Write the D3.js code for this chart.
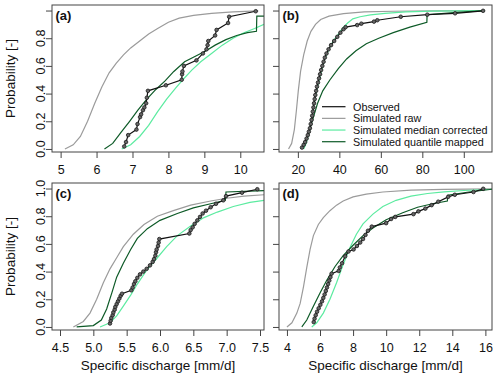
<!DOCTYPE html>
<head>
    <meta charset="UTF-8" />
    <style>
        body { margin: 0; padding: 0; background: #fff; }
        text { font-family: "Liberation Sans", Arial, sans-serif; fill: #111; }
        .frame { fill: none; stroke: #444; stroke-width: 1px; }
        .tick line { stroke: #444; }
    </style>
    <title>ECDF panels</title>
</head>
<svg width="500" height="378"></svg>
<script src="https://d3js.org/d3.v7.min.js"></script>
<script>
    // [specific discharge, probability] pairs
    const obsA = [[6.77,0.018],[6.82,0.05],[6.88,0.10],[7.11,0.14],[7.14,0.18],[7.21,0.23],[7.24,0.25],[7.29,0.28],[7.33,0.30],[7.38,0.33],[7.40,0.37],[7.43,0.42],[7.93,0.46],[8.37,0.50],[8.38,0.54],[8.39,0.56],[8.43,0.60],[8.78,0.64],[8.96,0.69],[9.06,0.72],[9.09,0.75],[9.11,0.78],[9.30,0.82],[9.34,0.86],[9.66,0.91],[9.69,0.955],[10.43,0.995]]
    const rawA = [[5.12,0],[5.35,0.03],[5.55,0.09],[5.75,0.2],[5.95,0.33],[6.15,0.45],[6.35,0.55],[6.55,0.62],[6.75,0.68],[6.95,0.73],[7.2,0.78],[7.45,0.83],[7.7,0.87],[8.0,0.915],[8.3,0.945],[8.7,0.965],[9.2,0.98],[9.8,0.99],[10.5,0.997]]
    const medA = [[6.7,0],[6.95,0.03],[7.2,0.09],[7.45,0.17],[7.7,0.27],[7.95,0.36],[8.2,0.44],[8.4,0.5],[8.65,0.57],[8.9,0.63],[9.2,0.69],[9.5,0.75],[9.8,0.8],[10.1,0.84],[10.4,0.87],[10.66,0.9]]
    const qmA = [[6.22,0],[6.45,0.04],[6.68,0.12],[6.92,0.2],[7.15,0.28],[7.4,0.36],[7.65,0.43],[7.9,0.49],[8.15,0.56],[8.45,0.63],[8.75,0.67],[9.05,0.71],[9.3,0.75],[9.6,0.79],[9.9,0.82],[10.2,0.84],[10.45,0.85],[10.46,0.96],[10.66,0.96]]

    const obsB = [[22.0,0.01],[22.8,0.03],[23.5,0.05],[24.2,0.075],[24.8,0.10],[25.3,0.125],[25.8,0.15],[26.2,0.18],[26.6,0.21],[26.9,0.24],[27.2,0.27],[27.5,0.30],[27.8,0.33],[28.1,0.36],[28.4,0.39],[28.8,0.42],[29.2,0.45],[29.7,0.48],[30.2,0.51],[30.7,0.54],[31.2,0.57],[31.8,0.60],[32.4,0.63],[33.0,0.66],[33.8,0.69],[34.8,0.72],[36.0,0.75],[37.5,0.78],[39.0,0.81],[40.5,0.84],[42.0,0.865],[43.0,0.88],[48.6,0.895],[50.6,0.905],[56.7,0.92],[58.3,0.93],[69.6,0.955],[82.4,0.97],[95.8,0.98],[109.3,0.998]]
    const rawB = [[15.5,0],[17,0.04],[18.3,0.14],[19.3,0.28],[20.2,0.42],[21.3,0.56],[22.8,0.68],[24.5,0.78],[26.3,0.85],[28.5,0.9],[31,0.935],[35,0.96],[42,0.978],[52,0.99],[66,0.995],[85,0.998],[110,1.0]]
    const medB = [[22.8,0],[24,0.04],[25.5,0.12],[27,0.25],[28.5,0.38],[30,0.48],[31.5,0.57],[33,0.65],[35,0.72],[37,0.78],[39.5,0.83],[42,0.88],[44,0.91],[46.5,0.94],[50,0.955],[55,0.968],[62,0.98],[72,0.99],[85,0.996],[110,1.0]]
    const qmB = [[21.5,0],[23.5,0.05],[25.5,0.13],[27.5,0.23],[29.5,0.33],[32,0.42],[35.5,0.5],[39.5,0.58],[43.5,0.65],[48,0.71],[53,0.76],[59,0.8],[66,0.84],[74,0.88],[82.2,0.915],[82.3,0.97],[95,0.985],[110,1.0]]

    const obsC = [[5.25,0.025],[5.26,0.045],[5.27,0.065],[5.29,0.085],[5.30,0.105],[5.32,0.125],[5.33,0.145],[5.35,0.165],[5.37,0.185],[5.39,0.205],[5.41,0.225],[5.43,0.24],[5.57,0.265],[5.59,0.285],[5.61,0.31],[5.63,0.33],[5.66,0.355],[5.70,0.38],[5.75,0.40],[5.80,0.42],[5.85,0.445],[5.89,0.47],[5.91,0.49],[5.93,0.515],[5.94,0.54],[5.95,0.56],[5.97,0.585],[5.98,0.61],[5.99,0.635],[6.44,0.675],[6.46,0.70],[6.49,0.72],[6.52,0.745],[6.56,0.77],[6.60,0.795],[6.64,0.82],[6.69,0.84],[6.76,0.865],[6.84,0.89],[6.95,0.915],[6.99,0.945],[7.23,0.97],[7.46,0.995]]
    const rawC = [[4.7,0],[4.85,0.04],[4.95,0.10],[5.05,0.2],[5.15,0.32],[5.25,0.42],[5.35,0.5],[5.45,0.58],[5.6,0.67],[5.76,0.74],[5.96,0.8],[6.2,0.84],[6.46,0.88],[6.76,0.91],[7.0,0.93],[7.26,0.945],[7.56,0.955]]
    const medC = [[5.1,0],[5.25,0.03],[5.35,0.08],[5.45,0.15],[5.56,0.23],[5.66,0.31],[5.8,0.41],[5.96,0.5],[6.1,0.58],[6.26,0.66],[6.46,0.73],[6.66,0.79],[6.86,0.83],[7.1,0.87],[7.35,0.9],[7.56,0.915]]
    const qmC = [[4.75,0],[5.0,0.01],[5.12,0.05],[5.2,0.13],[5.28,0.25],[5.35,0.36],[5.45,0.46],[5.56,0.56],[5.66,0.64],[5.81,0.71],[6.0,0.77],[6.26,0.82],[6.5,0.86],[6.76,0.89],[6.98,0.915],[6.99,0.975],[7.56,0.985]]

    const obsD = [[5.62,0.035],[5.67,0.06],[5.74,0.085],[5.82,0.11],[5.92,0.135],[6.02,0.16],[6.12,0.185],[6.20,0.21],[6.28,0.235],[6.35,0.26],[6.42,0.285],[6.49,0.31],[6.56,0.335],[6.63,0.36],[6.70,0.385],[7.13,0.405],[7.20,0.43],[7.33,0.46],[7.52,0.51],[7.72,0.545],[8.03,0.56],[8.23,0.585],[8.43,0.61],[8.60,0.635],[8.75,0.665],[8.90,0.695],[9.13,0.725],[10.0,0.75],[10.3,0.78],[10.55,0.795],[11.65,0.815],[11.95,0.835],[12.37,0.855],[12.75,0.88],[13.15,0.905],[13.75,0.94],[14.15,0.955],[15.28,0.975],[15.87,0.998]]
    const rawD = [[4.0,0],[4.3,0.03],[4.6,0.10],[4.8,0.17],[5.0,0.29],[5.2,0.43],[5.4,0.56],[5.6,0.66],[5.9,0.74],[6.2,0.79],[6.6,0.84],[7.0,0.88],[7.4,0.91],[8.0,0.94],[8.8,0.96],[9.8,0.975],[11.5,0.988],[13.5,0.994],[16.4,0.998]]
    const medD = [[5.5,0],[5.8,0.03],[6.2,0.10],[6.6,0.2],[7.0,0.32],[7.4,0.45],[7.8,0.57],[8.2,0.67],[8.6,0.745],[9.2,0.815],[9.8,0.87],[10.6,0.915],[11.5,0.945],[12.5,0.964],[13.5,0.976],[14.7,0.986],[16.4,0.995]]
    const qmD = [[4.9,0],[5.2,0.05],[5.6,0.15],[6.0,0.245],[6.4,0.335],[6.9,0.435],[7.4,0.515],[8.0,0.59],[8.6,0.66],[9.2,0.715],[10.0,0.775],[11.0,0.825],[11.9,0.865],[12.8,0.89],[13.7,0.91],[13.72,0.952],[15,0.975],[16.4,0.995]]

    const ticksA = [5, 6, 7, 8, 9, 10]
    const ticksB = [20, 40, 60, 80, 100]
    const ticksC = [4.5, 5.0, 5.5, 6.0, 6.5, 7.0, 7.5]
    const ticksD = [4, 6, 8, 10, 12, 14, 16]
    const probTicks = [0, 0.2, 0.4, 0.6, 0.8, 1.0]

    const legendLabels = ["Observed", "Simulated raw", "Simulated median corrected", "Simulated quantile mapped"]
    const colors = { obs: "#111111", raw: "#9b9b9b", med: "#5ceba0", qm: "#0d5a27" }

    const panels = [
        { id: "a", box: [52, 264, 5, 152], xdom: [4.76, 10.66], ticks: ticksA, fmt: d3.format("d"), ylab: true, xlab: false, top: [0, 0.2, 0.4, 0.6, 0.8], series: [rawA, medA, qmA, obsA] },
        { id: "b", box: [279, 492, 5, 152], xdom: [10.9, 113.6], ticks: ticksB, fmt: d3.format("d"), ylab: false, xlab: false, series: [rawB, medB, qmB, obsB], legend: true },
        { id: "c", box: [52, 264, 183, 330], xdom: [4.38, 7.56], ticks: ticksC, fmt: d3.format(".1f"), ylab: true, xlab: true, top: probTicks, series: [rawC, medC, qmC, obsC] },
        { id: "d", box: [279, 492, 183, 330], xdom: [3.52, 16.4], ticks: ticksD, fmt: d3.format("d"), ylab: false, xlab: true, series: [rawD, medD, qmD, obsD] }
    ]

    const svg = d3.select("svg")
    const keys = ["raw", "med", "qm", "obs"]

    panels.forEach(p => {
        const [x0, x1, y0, y1] = p.box
        const x = d3.scaleLinear().domain(p.xdom).range([x0, x1])
        const y = d3.scaleLinear().domain([-0.022, 1.04]).range([y1, y0])
        const g = svg.append("g")

        g.append("clipPath").attr("id", "clip" + p.id)
            .append("rect").attr("x", x0).attr("y", y0).attr("width", x1 - x0).attr("height", y1 - y0)

        const plot = g.append("g").attr("clip-path", `url(#clip${p.id})`)
        const line = d3.line().x(d => x(d[0])).y(d => y(d[1]))

        p.series.forEach((s, i) => {
            plot.append("path").datum(s)
                .attr("d", line)
                .attr("fill", "none")
                .attr("stroke", colors[keys[i]])
                .attr("stroke-width", 1.2)
        })
        // observed points
        plot.selectAll("circle").data(p.series[3]).enter().append("circle")
            .attr("cx", d => x(d[0])).attr("cy", d => y(d[1]))
            .attr("r", 1.8)
            .attr("fill", "#666").attr("stroke", "#1a1a1a").attr("stroke-width", 0.8)

        g.append("rect").attr("class", "frame")
            .attr("x", x0).attr("y", y0).attr("width", x1 - x0).attr("height", y1 - y0)

        // x axis
        const xa = g.append("g").attr("transform", `translate(0,${y1})`)
            .call(d3.axisBottom(x).tickValues(p.ticks).tickFormat(p.fmt).tickSize(6).tickPadding(3))
        xa.select(".domain").remove()
        xa.selectAll("text").attr("font-size", 12.5).attr("fill", "#111").attr("dy", "1.0em")
            .style("font-family", '"Liberation Sans", Arial, sans-serif')

        // y axis
        const ya = g.append("g").attr("transform", `translate(${x0},0)`)
            .call(d3.axisLeft(y).tickValues(probTicks).tickSize(6).tickFormat(""))
        ya.select(".domain").remove()
        if (p.ylab) {
            p.top.forEach(v => {
                g.append("text")
                    .attr("transform", `translate(44.5,${y(v)}) rotate(-90)`)
                    .attr("text-anchor", "middle")
                    .attr("font-size", 12.5)
                    .text(d3.format(".1f")(v))
            })
            g.append("text")
                .attr("transform", `translate(14.5,${(y0 + y1) / 2}) rotate(-90)`)
                .attr("text-anchor", "middle")
                .attr("font-size", 13.5)
                .text("Probability [-]")
        }
        if (p.xlab) {
            g.append("text")
                .attr("x", (x0 + x1) / 2).attr("y", y1 + 40)
                .attr("text-anchor", "middle")
                .attr("font-size", 13.5)
                .text("Specific discharge [mm/d]")
        }

        g.append("text")
            .attr("x", x0 + 3.5).attr("y", y0 + 14.5)
            .attr("font-size", 13).attr("font-weight", "bold")
            .text(`(${p.id})`)

        if (p.legend) {
            const lg = g.append("g")
            legendLabels.forEach((lab, i) => {
                const ly = 106.7 + i * 11.67
                lg.append("line").attr("x1", 322).attr("x2", 345.5).attr("y1", ly).attr("y2", ly)
                    .attr("stroke", colors[["obs", "raw", "med", "qm"][i]]).attr("stroke-width", 1.2)
                lg.append("text").attr("x", 353).attr("y", ly + 3.9)
                    .attr("font-size", 10.8).text(lab)
            })
        }
    })
</script>
